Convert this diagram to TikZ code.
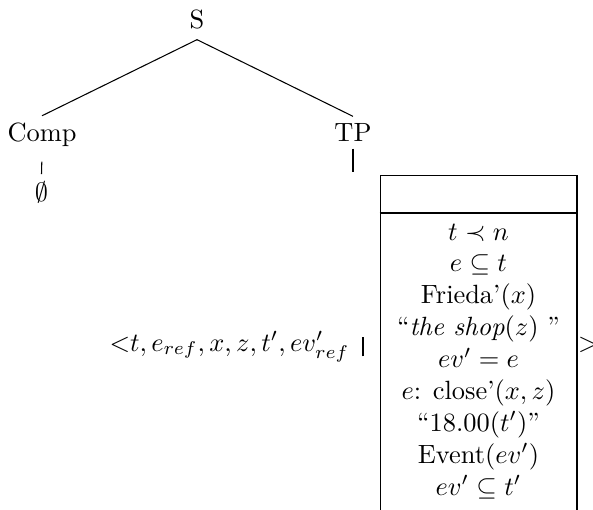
\documentclass[tikz,border=0pt]{standalone}
\usepackage{amsmath}
\usepackage{amssymb}
\usepackage{tikz}
\usetikzlibrary{fit}

\begin{document}
\begin{tikzpicture}[x=0.3788pt, y=-0.3788pt,
    lbl/.style={inner sep=2.5pt, anchor=base},
    cond/.style={anchor=base, inner sep=0pt},
    drsbox/.style={draw, minimum width=74.6pt, minimum height=150pt, inner sep=0pt, anchor=north}]
    \useasboundingbox (0,0) rectangle (593,509);
    \clip (0,0) rectangle (593,509);
    % tree
    \node[lbl, inner sep=4pt] (s) at (197,28) {S};
    \node[lbl] (comp) at (42,141.5) {Comp};
    \node[lbl] (tp) at (353,141.5) {TP};
    \node[lbl] (empty) at (41.5,201) {$\emptyset$};
    \draw (s.south) -- (comp.north);
    \draw (s.south) -- (tp.north);
    \draw[shorten <=3pt] (comp.south) -- (empty.north);
    % DRS
    \node[anchor=base west, inner sep=0pt] (univ) at (109,351)
        {${<}t, e_{ref}, x, z, t', ev'_{ref}\hspace{5pt}\rule[-2pt]{0.4pt}{7.2pt}$};
    \node[drsbox] (box) at (478.5,175) {};
    \coordinate (div) at (478.5,213);
    \draw (div -| box.west) -- (div -| box.east);
    \foreach \c [count=\i] in {{$t \prec n$}, {$e \subseteq t$}, {Frieda'$(x)$},
        {``\textit{the shop}$(z)$ ''}, {$ev' = e$}, {$e$: close'$(x, z)$},
        {``18.00$(t')$''}, {Event$(ev')$}, {$ev' \subseteq t'$}}
        \node[cond] (c\i) at (478.5,{240+31.9*(\i-1)}) {\c};
    \node[anchor=base west, inner sep=0pt] (gt) at (577.5,351) {$>$};
    \node[fit=(univ)(box)(gt), inner sep=1pt] (drs) {};
    \draw (tp.south) -- (tp |- drs.north);
\end{tikzpicture}
\end{document}
